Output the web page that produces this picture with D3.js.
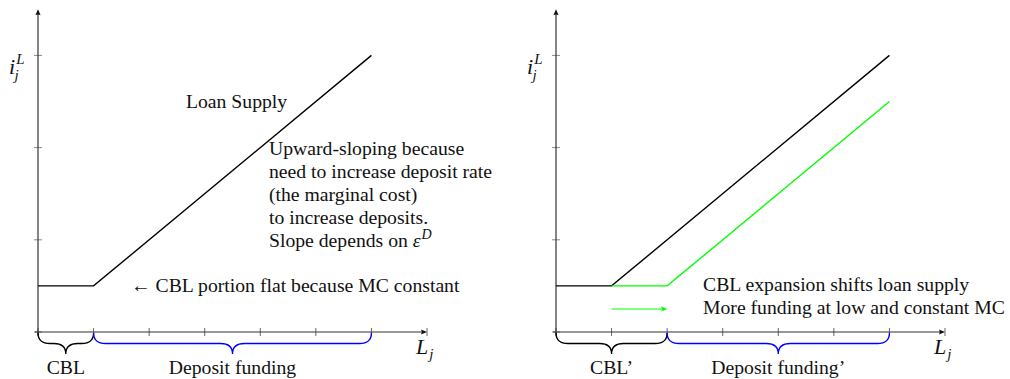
<!DOCTYPE html>
<html>
<head>
<meta charset="utf-8">
<script src="https://cdn.jsdelivr.net/npm/d3@7"></script>
<style>
  html, body { margin: 0; padding: 0; background: #fff; }
  svg { display: block; }
  text { font-family: "Liberation Serif", "Times New Roman", serif; font-size: 19.7px; fill: #111; }
  .math { font-style: italic; }
</style>
</head>
<body>
<svg id="chart" width="1010" height="379"></svg>
<script>
// Axis ticks (in loan units / rate units)
const xTicks = [0, 1, 2, 3, 4, 5, 6, 7];
const yTicks = [0, 1, 2, 3];

// Loan supply schedules: flat CBL segment, then upward-sloping deposit funding
const supplyBase    = [{ L: 0, i: 0.5 }, { L: 1, i: 0.5 }, { L: 6, i: 3.0 }];
const supplyShifted = [{ L: 1, i: 0.5 }, { L: 2, i: 0.5 }, { L: 6, i: 2.5 }];

// Funding sources along the loan axis
const fundingLeft  = [{ name: "CBL", from: 0, to: 1, color: "#000" },
                      { name: "Deposit funding", from: 1, to: 6, color: "#0000ff" }];
const fundingRight = [{ name: "CBL\u2019", from: 0, to: 2, color: "#000" },
                      { name: "Deposit funding\u2019", from: 2, to: 6, color: "#0000ff" }];

// Shift arrow in the right panel
const shiftArrow = [{ L: 1, i: 0.25 }, { L: 2, i: 0.25 }];

const svg = d3.select("#chart");

const x = d3.scaleLinear().domain([0, 7]).range([0, 389]);
const y = d3.scaleLinear().domain([0, 3.5]).range([332, 9.3]);

const lineGen = d3.line().x(d => x(d.L)).y(d => y(d.i));

function arrowHead(g, tipX, tipY, dir, color) {
  // dir: "up" or "right"
  const len = 6, half = 2.6;
  let p;
  if (dir === "up") {
    p = `M${tipX},${tipY} L${tipX - half},${tipY + len} Q${tipX},${tipY + len - 1.8} ${tipX + half},${tipY + len} Z`;
  } else {
    p = `M${tipX},${tipY} L${tipX - len},${tipY - half} Q${tipX - len + 1.8},${tipY} ${tipX - len},${tipY + half} Z`;
  }
  g.append("path").attr("d", p).attr("fill", color).attr("stroke", "none");
}

function bracePath(x0, x1, yy, amp) {
  const mid = (x0 + x1) / 2, h = amp / 2;
  const r = Math.min(12, (x1 - x0) / 4);
  return `M${x0},${yy} Q${x0},${yy + h} ${x0 + r},${yy + h} L${mid - r},${yy + h} ` +
         `Q${mid},${yy + h} ${mid},${yy + amp} Q${mid},${yy + h} ${mid + r},${yy + h} ` +
         `L${x1 - r},${yy + h} Q${x1},${yy + h} ${x1},${yy}`;
}

function drawPanel(offsetX, funding) {
  const g = svg.append("g").attr("transform", `translate(${offsetX},0)`);

  // y ticks
  g.selectAll(".ytick").data(yTicks).join("line")
    .attr("x1", -4).attr("x2", 4)
    .attr("y1", d => y(d)).attr("y2", d => y(d))
    .attr("stroke", "#8a8a8a").attr("stroke-width", 1);

  // x ticks
  g.selectAll(".xtick").data(xTicks).join("line")
    .attr("x1", d => x(d)).attr("x2", d => x(d))
    .attr("y1", y(0) - 4).attr("y2", y(0) + 4)
    .attr("stroke", "#555").attr("stroke-width", 0.9);

  // axes
  g.append("line").attr("x1", 0).attr("x2", 0)
    .attr("y1", y(0) + 3).attr("y2", y(3.5) + 2)
    .attr("stroke", "#333").attr("stroke-width", 1.2);
  arrowHead(g, 0, y(3.5), "up", "#111");

  g.append("line").attr("x1", -3).attr("x2", x(7) - 2)
    .attr("y1", y(0)).attr("y2", y(0))
    .attr("stroke", "#333").attr("stroke-width", 1.1);
  arrowHead(g, x(7), y(0), "right", "#111");

  // braces under the loan axis
  funding.forEach(f => {
    g.append("path")
      .attr("d", bracePath(x(f.from), x(f.to), y(0) + 1, 21))
      .attr("fill", "none").attr("stroke", f.color).attr("stroke-width", 1.3);
    g.append("text")
      .attr("x", x((f.from + f.to) / 2)).attr("y", 374)
      .attr("text-anchor", "middle").text(f.name);
  });

  // axis labels
  const yl = g.append("text").attr("class", "math").attr("x", -29).attr("y", 74)
    .style("font-size", "22px");
  yl.append("tspan").text("i");
  yl.append("tspan").attr("dx", 1).attr("dy", -10).style("font-size", "15px").text("L");
  yl.append("tspan").attr("dx", -10).attr("dy", 16).style("font-size", "15px").text("j");

  const xl = g.append("text").attr("class", "math").attr("x", x(7) - 11).attr("y", 354)
    .style("font-size", "22px");
  xl.append("tspan").text("L");
  xl.append("tspan").attr("dx", 1).attr("dy", 5).style("font-size", "15px").text("j");

  return g;
}

// Left panel
const gl = drawPanel(38, fundingLeft);
gl.append("path").datum(supplyBase).attr("d", lineGen)
  .attr("fill", "none").attr("stroke", "#000").attr("stroke-width", 1.4);

gl.append("text").attr("x", 148).attr("y", 108).text("Loan Supply");
const notes = ["Upward-sloping because", "need to increase deposit rate",
               "(the marginal cost)", "to increase deposits."];
notes.forEach((t, k) => {
  gl.append("text").attr("x", 231).attr("y", 155 + k * 23).text(t);
});
const sl = gl.append("text").attr("x", 231).attr("y", 155 + 4 * 23);
sl.append("tspan").text("Slope depends on ");
sl.append("tspan").attr("class", "math").text("\u03b5");
sl.append("tspan").attr("class", "math").attr("dx", 1).attr("dy", -8)
  .style("font-size", "14px").text("D");

gl.append("text").attr("x", 93).attr("y", 292).text("\u2190 CBL portion flat because MC constant");

// Right panel
const gr = drawPanel(556, fundingRight);
gr.append("path").datum(supplyBase).attr("d", lineGen)
  .attr("fill", "none").attr("stroke", "#000").attr("stroke-width", 1.4);
gr.append("path").datum(supplyShifted).attr("d", lineGen)
  .attr("fill", "none").attr("stroke", "#00ff00").attr("stroke-width", 1.4);

gr.append("line")
  .attr("x1", x(shiftArrow[0].L)).attr("x2", x(shiftArrow[1].L) - 3)
  .attr("y1", y(shiftArrow[0].i)).attr("y2", y(shiftArrow[1].i))
  .attr("stroke", "#00ff00").attr("stroke-width", 1.1);
arrowHead(gr, x(shiftArrow[1].L), y(shiftArrow[1].i), "right", "#00ff00");

gr.append("text").attr("x", 147).attr("y", 291).text("CBL expansion shifts loan supply");
gr.append("text").attr("x", 147).attr("y", 314).text("More funding at low and constant MC");
</script>
</body>
</html>
